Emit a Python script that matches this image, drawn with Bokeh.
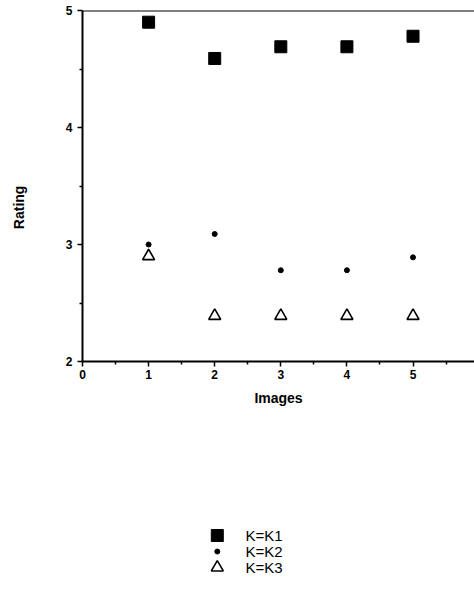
from bokeh.plotting import figure
from bokeh.layouts import column
from bokeh.models import Span, FixedTicker, Range1d
from bokeh.core.properties import value
from bokeh.embed import file_html
from bokeh.resources import INLINE

images = [1, 2, 3, 4, 5]
k1 = [4.9, 4.59, 4.69, 4.69, 4.78]
k2 = [3.0, 3.09, 2.78, 2.78, 2.89]
k3 = [2.9, 2.39, 2.39, 2.39, 2.39]
labels = ["K=K1", "K=K2", "K=K3"]

font = "Liberation Sans"
sq = dict(marker="square", size=12, color="black")
dot = dict(marker="circle", size=5, color="black")
tri = dict(marker="triangle", size=12, fill_color="white", line_color="black", line_width=1.6)
styles = [sq, dot, tri]

p = figure(width=474, height=420, output_backend="svg", toolbar_location=None,
           x_range=(0, 5.93), y_range=(2, 5),
           min_border_left=82, min_border_top=10, min_border_right=0, min_border_bottom=59)
p.outline_line_color = None
p.grid.visible = False
p.background_fill_color = "white"

for ax in (p.xaxis[0], p.yaxis[0]):
    ax.axis_line_width = 2
    ax.axis_line_color = "black"
    ax.major_tick_line_width = 1.5
    ax.minor_tick_line_width = 1.5
    ax.major_tick_out = 5
    ax.major_tick_in = 0
    ax.minor_tick_out = 3
    ax.minor_tick_in = 0
    ax.major_label_text_font = font
    ax.major_label_text_font_style = "bold"
    ax.major_label_text_font_size = "12px"
    ax.major_label_text_color = "black"
    ax.axis_label_text_font = font
    ax.axis_label_text_font_style = "bold"
    ax.axis_label_text_font_size = "14px"
    ax.axis_label_text_color = "black"

p.xaxis.ticker = FixedTicker(ticks=[0, 1, 2, 3, 4, 5, 6], minor_ticks=[0.5, 1.5, 2.5, 3.5, 4.5, 5.5])
p.yaxis.ticker = FixedTicker(ticks=[2, 3, 4, 5], minor_ticks=[2.5, 3.5, 4.5])
p.xaxis.axis_label = "Images"
p.yaxis.axis_label = "Rating" + "\u00a0" * 11
p.xaxis.axis_label_standoff = 8
p.yaxis.axis_label_standoff = 36
p.xaxis.major_label_standoff = 3
p.yaxis.major_label_standoff = 5

p.add_layout(Span(location=5, dimension="width", line_color="black", line_width=2))

p.scatter(images, k1, **sq)
p.scatter(images, k2, **dot)
p.scatter(images, k3, **tri)

# legend panel: one row per series, rows indexed 0..2
rows = list(range(len(labels)))
q = figure(width=474, height=172, output_backend="svg", toolbar_location=None,
           x_axis_type=None, y_axis_type=None,
           x_range=Range1d(0, 474), y_range=Range1d(3.5625, -7.1875),
           min_border=0, min_border_left=0, min_border_right=0, min_border_top=0, min_border_bottom=0)
q.outline_line_color = None
q.grid.visible = False
for i, st in zip(rows, styles):
    q.scatter(x=[163], y=[i], **st)
q.text(x=[197] * len(rows), y=rows, text=labels, text_font=value(font),
       text_font_size="15px", text_baseline="middle", text_align="left", text_color="black")

open("out.html", "w").write(file_html(column(p, q, spacing=0), INLINE))
